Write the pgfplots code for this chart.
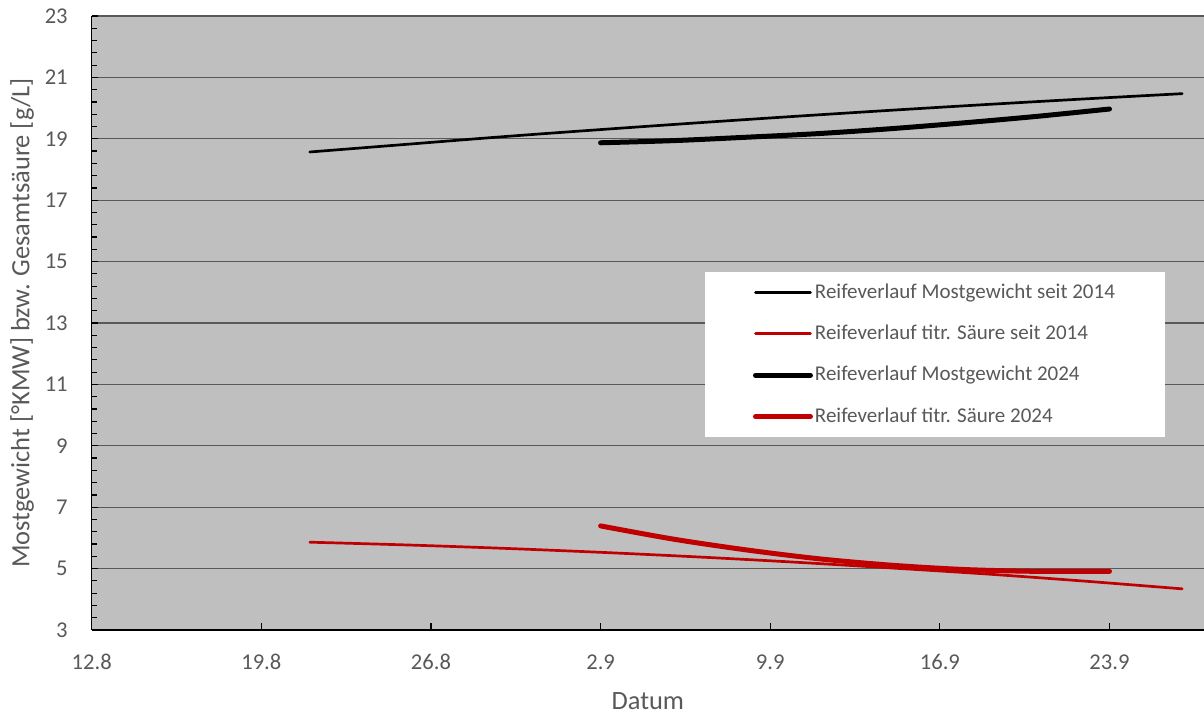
\documentclass[border=0pt]{standalone}
\usepackage{fontspec}
\setmainfont{Carlito}
\usepackage{pgfplots}
\pgfplotsset{compat=1.18}

\definecolor{plotbg}{HTML}{BFBFBF}
\definecolor{gridc}{HTML}{595959}
\definecolor{txt}{HTML}{595959}
\definecolor{saeure}{HTML}{C00000}

\begin{document}
\begin{tikzpicture}
\begin{axis}[
    scale only axis,
    width=556.15pt, height=307pt,
    xmin=0, xmax=45.9,
    ymin=3, ymax=23,
    axis x line*=bottom,
    axis y line*=left,
    axis line style={black, line width=0.7pt},
    xtick={0,7,14,21,28,35,42},
    xticklabels={12.8,19.8,26.8,2.9,9.9,16.9,23.9},
    ytick={3,5,...,23},
    minor y tick num=4,
    tick align=inside,
    major tick length=3.3pt,
    minor tick length=2.5pt,
    tick style={black, line width=0.6pt},
    ymajorgrids=true,
    major grid style={gridc, line width=0.6pt},
    axis background/.style={fill=plotbg},
    /pgf/number format/assume math mode=true,
    ticklabel style={font=\fontsize{11.3}{13}\selectfont, text=txt},
    xticklabel style={anchor=base, inner sep=0pt, yshift=-19.7pt},
    yticklabel style={anchor=east, inner sep=0pt, xshift=-11.8pt},
    xlabel={Datum},
    ylabel={Mostgewicht [°KMW] bzw. Gesamtsäure [g/L]},
    every axis x label/.style={at={([yshift=-39.7pt]rel axis cs:0.5,0)}, anchor=base,
        font=\fontsize{13.2}{15}\selectfont, text=txt},
    every axis y label/.style={at={([xshift=-31.2pt]rel axis cs:0,0.5)}, anchor=base, rotate=90,
        font=\fontsize{13.2}{15}\selectfont, text=txt},
    legend style={at={(rel axis cs:0.551,0.583)}, anchor=north west,
        draw=none, fill=white, inner xsep=24pt, inner ysep=4.6pt, row sep=9.9pt,
        font=\fontsize{10.5}{12}\selectfont, text=txt,
        nodes={inner sep=1pt}},
    legend cell align=left,
    legend image code/.code={\draw[#1] (0pt,0pt) -- (27.5pt,0pt);},
]

% Mostgewicht seit 2014
\addplot[black, line width=1.35pt, line cap=round, smooth] coordinates {
    (9,18.57) (13,18.82) (17,19.07) (21,19.30) (25,19.52)
    (29,19.73) (33,19.93) (37,20.12) (41,20.30) (45,20.47)
};
\addlegendentry{Reifeverlauf Mostgewicht seit 2014}

% titr. Saeure seit 2014
\addplot[saeure, line width=1.35pt, line cap=round, smooth] coordinates {
    (9,5.86) (13,5.77) (17,5.66) (21,5.53) (25,5.38)
    (29,5.21) (33,5.02) (37,4.82) (41,4.59) (45,4.34)
};
\addlegendentry{Reifeverlauf titr. Säure seit 2014}

% Mostgewicht 2024
\addplot[black, line width=2.5pt, line cap=round, smooth] coordinates {
    (21,18.87) (24,18.94) (27,19.05) (30,19.17) (33,19.33)
    (36,19.52) (39,19.73) (42,19.97)
};
\addlegendentry{Reifeverlauf Mostgewicht 2024}

% titr. Saeure 2024
\addplot[saeure, line width=2.5pt, line cap=round, smooth] coordinates {
    (21,6.39) (24,5.96) (27,5.61) (30,5.32) (33,5.11)
    (36,4.97) (39,4.91) (42,4.91)
};
\addlegendentry{Reifeverlauf titr. Säure 2024}

\end{axis}
\pgfresetboundingbox
\path ([xshift=-45.85pt,yshift=-42.5pt]current axis.south west) rectangle ([yshift=8pt]current axis.north east);
\end{tikzpicture}
\end{document}
